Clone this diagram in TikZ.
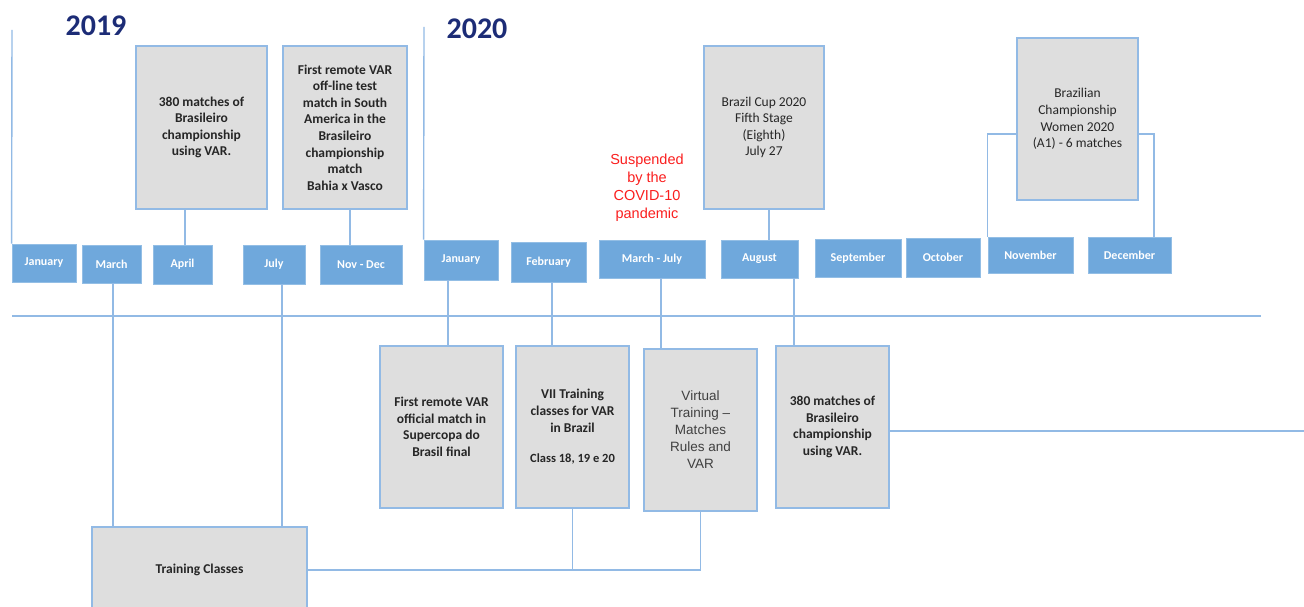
\documentclass[tikz,border=0pt]{standalone}
\usepackage{fontspec}
\setmainfont{Carlito}
\newfontfamily\arialfont{Liberation Sans}
\usepackage{tikz}

\definecolor{monthblue}{RGB}{111,168,220}
\definecolor{linkblue}{RGB}{146,186,229}
\definecolor{boxgray}{RGB}{222,222,222}
\definecolor{yearnavy}{RGB}{28,44,118}
\definecolor{covidred}{RGB}{250,30,30}
\definecolor{softgray}{RGB}{64,64,64}

\tikzset{
  boxsize/.style 2 args={minimum width=#1pt,minimum height=#2pt},
  month/.style={fill=monthblue,draw=monthblue!75!white,line width=0.8pt,text=white,
    inner sep=0pt,font=\bfseries\fontsize{12}{14}\selectfont},
  event/.style={fill=boxgray,draw=linkblue,line width=1.6pt,inner sep=0pt,align=center,
    text=black!85,font=\bfseries\fontsize{13.5}{16.6}\selectfont},
  plain/.style={font=\mdseries\fontsize{13.5}{16.6}\selectfont},
  link/.style={draw=linkblue,line width=1.4pt},
  year/.style={text=yearnavy,font=\bfseries\fontsize{30}{34}\selectfont}
}

\begin{document}
\begin{tikzpicture}[x=1pt,y=-1pt]
    \useasboundingbox (0,0) rectangle (1304,607);

    % years
    \node[year] (y2019) at (96,26) {2019};
    \node[year] (y2020) at (477,29) {2020};
    \coordinate (top19) at (12,30);
    \coordinate (top20) at (424,27);

    % month row
    \begin{scope}[every node/.style={month}]
    \node[boxsize={64}{38}]  (jan19)  at (44,263)    {January};
    \node[boxsize={59}{38}]  (mar19)  at (111.5,264) {March};
    \node[boxsize={59}{39}]  (apr19)  at (182.5,264.5) {April};
    \node[boxsize={62}{39}]  (jul19)  at (274,264.5) {July};
    \node[boxsize={82}{39}]  (novdec) at (361,264.5) {Nov - Dec};
    \node[boxsize={74}{40}]  (jan20)  at (461,260)   {January};
    \node[boxsize={75}{40}]  (feb20)  at (548.5,262) {February};
    \node[boxsize={106}{38}] (marjul) at (652,259)   {March - July};
    \node[boxsize={77}{38}]  (aug20)  at (759.5,259) {August};
    \node[boxsize={86}{38}]  (sep20)  at (858,258)   {September};
    \node[boxsize={74}{39}]  (oct20)  at (943,257.5) {October};
    \node[boxsize={85}{36}]  (nov20)  at (1030.5,255) {November};
    \node[boxsize={83}{36}]  (dec20)  at (1129.5,255) {December};
    \end{scope}

    % events above the line
    \node[event,boxsize={131}{163}] (aprEvt) at (201.5,127.5)
        {380 matches of\\Brasileiro\\championship\\using VAR.};
    \node[event,boxsize={124}{163}] (ndEvt) at (345,127.5)
        {First remote VAR\\off-line test\\match in South\\America in the\\Brasileiro\\championship\\match\\Bahia x Vasco};
    \node[event,plain,boxsize={120}{163}] (cupEvt) at (764,127.5)
        {Brazil Cup 2020\\Fifth Stage\\(Eighth)\\July 27};
    \node[event,plain,boxsize={121}{162}] (womEvt) at (1077.5,119)
        {Brazilian\\Championship\\Women 2020\\(A1) - 6 matches};
    \node[align=center,text=covidred,font=\arialfont\fontsize{14.5}{18}\selectfont] (covid) at (647,188)
        {Suspended\\by the\\COVID-10\\pandemic};

    % events below the line
    \node[event,boxsize={123}{162}] (frEvt) at (441.5,427)
        {First remote VAR\\official match in\\Supercopa do\\Brasil final};
    \node[event,boxsize={113}{162}] (viiEvt) at (572.5,427)
        {VII Training\\classes for VAR\\in Brazil\\[14pt]{\fontsize{12.5}{14}\selectfont Class 18, 19 e 20}};
    \node[event,boxsize={113}{162},text=softgray,font=\arialfont\fontsize{13.5}{17}\selectfont] (virtEvt) at (700.5,430)
        {Virtual\\Training –\\Matches\\Rules and\\VAR};
    \node[event,boxsize={113}{162}] (m380) at (832.5,427)
        {380 matches of\\Brasileiro\\championship\\using VAR.};
    \node[event,boxsize={215}{86}] (train) at (199.5,570) {Training Classes};

    % time axis
    \coordinate (axisL) at (12,316);
    \coordinate (axisR) at (1261,316);
    \coordinate (tail) at (1304,431);
    \draw[link] (axisL) -- (axisR);
    \draw[link] (top19) -- (jan19.north west);
    \draw[link] (top20) -- (jan20.north west);

    % connectors
    \draw[link] ([xshift=2.5pt]apr19.north) -- ([xshift=-16.5pt]aprEvt.south);
    \draw[link] ([xshift=-11pt]novdec.north) -- ([xshift=5pt]ndEvt.south);
    \draw[link] ([xshift=9.5pt]aug20.north) -- ([xshift=5pt]cupEvt.south);
    \draw[link] ([yshift=-15pt]womEvt.west) -| (nov20.north west);
    \draw[link] ([yshift=-15pt]womEvt.east) -| ([xshift=24.5pt]dec20.north);
    \draw[link] ([xshift=-13pt]jan20.south) -- ([xshift=6.5pt]frEvt.north);
    \draw[link] ([xshift=3.5pt]feb20.south) -- ([xshift=-20.5pt]viiEvt.north);
    \draw[link] ([xshift=9pt]marjul.south) -- ([xshift=-39.5pt]virtEvt.north);
    \draw[link] ([xshift=34.5pt]aug20.south) -- ([xshift=-38.5pt]m380.north);
    \draw[link] ([xshift=1.5pt]mar19.south) -- ([xshift=-86.5pt]train.north);
    \draw[link] ([xshift=8pt]jul19.south) -- ([xshift=82.5pt]train.north);
    \draw[link] ([yshift=-4pt]m380.east) -- (tail);
    \draw[link] (viiEvt.south) -- (viiEvt.south |- train.east);
    \draw[link] (virtEvt.south) -- (virtEvt.south |- train.east) -- (train.east);
\end{tikzpicture}
\end{document}
